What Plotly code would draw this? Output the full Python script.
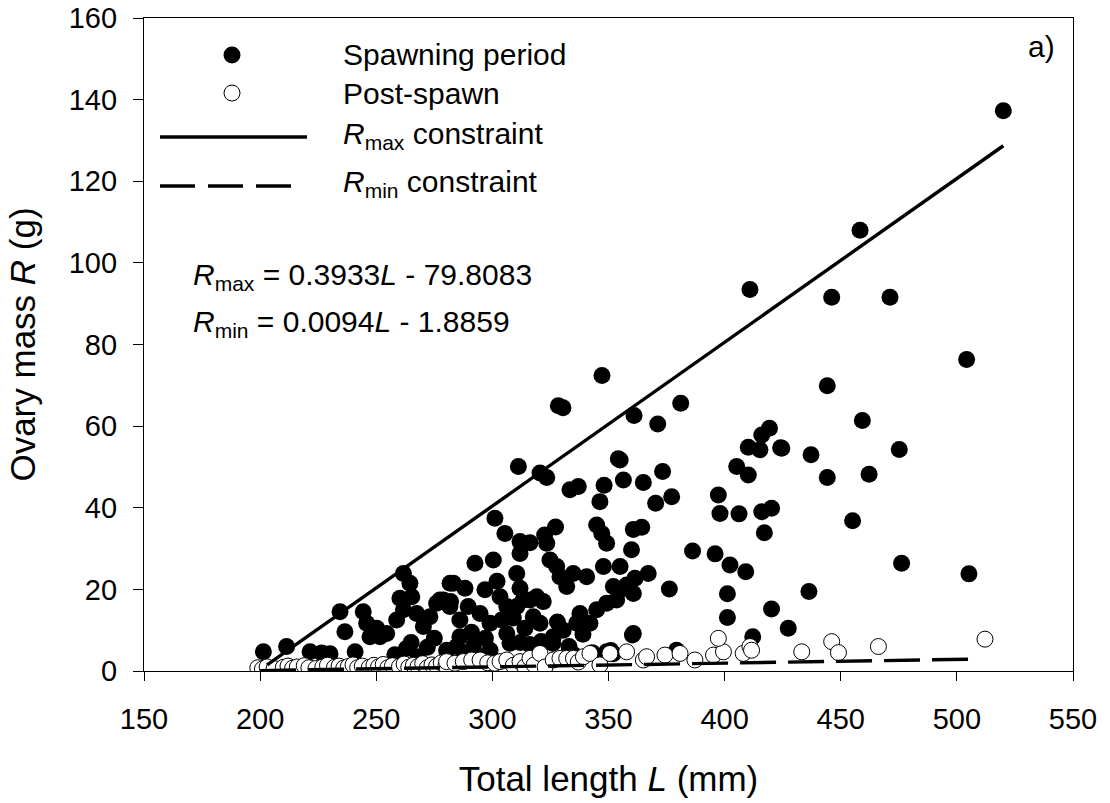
import plotly.graph_objects as go

# ---------------- data ----------------
spawn_L = [520, 458.3, 446.1, 471.2, 410.9, 504.2, 444.2, 459.3, 424.6, 437.2, 475.2, 444.2, 462.2, 455.1,
           476.2, 505.2, 436.3, 427.4, 420.2, 412.1,
           347.2, 328.4, 330.4, 361, 371.2, 381.1, 419.3, 416, 410.2, 415.2, 424.1, 405.2, 410.2, 397.3,
           398, 406.2, 416, 420.2, 417.1,
           355, 356.4, 365, 373.3, 370.3, 377.2, 360.7, 364.3, 359.9, 355, 357.8, 361.4, 367.1, 355, 360.7,
           376.2, 386.2, 395.9, 402.3, 409.1, 401.2, 401.2, 360.3, 379.3, 349.2,
           311.2, 320.5, 323.4, 354.2, 333.4, 337, 348.1, 346.3,
           301.1, 305.4, 311.9, 316.2, 322.5, 327.2, 344.9, 347.1, 349.2, 311.9, 310.5, 311.9, 292.5, 300.4,
           283.2, 288.2, 277.4, 281.7, 286, 289.6, 294.7, 299, 296.8, 303.3, 306.2, 310.5, 313.3, 316.2,
           319.1, 321.9, 317.6, 320.5,
           323.4, 324.8, 327.7, 329.1, 332, 334.8, 340.6, 347.8, 352.1, 353.5, 349.2, 344.9, 342, 336.3,
           330.5, 326.2, 337.7,
           306.2, 307.6, 299, 291.8, 284.6, 280.3, 286, 312, 316, 321, 326, 360.7, 351, 352,
           201.4, 211.4, 221.5, 226.5, 230.1, 234.4, 244.4, 245.9, 250.2, 236.5, 240.9, 261.7, 264.5, 265.3,
           260.2, 261.7, 258.8, 254.5, 251.6, 247.3, 267.4, 270.3, 273.1, 276, 278.9, 281.8, 258, 263, 268,
           272, 282, 288, 275, 265, 295, 335, 291, 297, 304, 314, 318, 328, 333, 339, 343, 302, 309]
spawn_R = [137.3, 108, 91.6, 91.6, 93.5, 76.3, 69.9, 61.4, 54.6, 53, 54.3, 47.4, 48.2, 36.8,
           26.4, 23.8, 19.5, 10.5, 15.2, 8.4,
           72.4, 65.0, 64.5, 62.6, 60.5, 65.6, 59.5, 57.8, 54.8, 54.2, 54.7, 50.1, 48, 43.1,
           38.6, 38.5, 39, 39.9, 33.9,
           51.7, 46.8, 46.2, 48.9, 41.1, 42.7, 34.7, 35.2, 29.7, 25.6, 21.1, 22.7, 23.9, 19.9, 19,
           20.1, 29.4, 28.7, 26, 24.3, 18.9, 13.1, 8.8, 5.1, 4.7,
           50.1, 48.5, 47.4, 52.0, 44.4, 45.2, 45.5, 41.5,
           37.4, 33.7, 31.7, 31.4, 33.3, 35.3, 35.8, 33.7, 31.3, 28.8, 23.9, 20.3, 26.4, 27.2,
           21.5, 20.3, 17.4, 15.8, 12.5, 15.8, 14.1, 11.7, 19.9, 18.2, 15.8, 15.8, 17.4, 17.4,
           18.2, 17, 13.3, 11.7,
           31.3, 27.2, 25.6, 23.1, 20.7, 23.9, 23.1, 25.6, 20.7, 17.4, 16.6, 15, 11.7, 11.7,
           10, 8.4, 14.1,
           9.2, 6.8, 5.1, 6, 6, 5.1, 8.4, 7, 6.5, 7.2, 6.8, 9.2, 5, 4.2,
           4.7, 6, 4.7, 4.4, 4.2, 14.5, 14.5, 11.7, 10.5, 9.6, 4.7, 23.9, 21.5, 18.2,
           17.8, 15, 12.5, 9.2, 8.4, 8.4, 14.1, 10.9, 13.3, 16.6, 17.4, 21.5, 4, 5.5, 3.5,
           5.8, 17, 4.5, 8, 7, 3.5, 4, 9.5, 8, 12.5, 10.5, 4.5, 12, 6, 9, 4.5, 22, 13]

post_L = [199, 201, 203, 206, 210, 212, 214, 216, 219, 221, 224, 227, 229, 232, 234, 236, 238, 240, 242,
          244, 247, 249, 251, 253, 255, 257, 260, 262, 264, 266, 268, 270, 272, 274, 276, 278, 280,
          280.3, 283.9, 287.5, 291.1, 294.7, 298, 301.1, 303.3, 306.2, 309, 311.9, 314, 316.2, 318,
          320.5, 322.7, 326.2, 329.1, 332, 334.9, 337, 339.2, 342, 346.3, 350.6, 357.8, 365, 366.4,
          374.3, 380.8, 387.2, 395.2, 399.5, 397.3, 408, 410.9, 411.6, 433.2, 446.1, 449, 466.2, 512.1]
post_R = [0.8, 0.5, 1.0, 0.6, 0.9, 1.2, 0.7, 1.0, 1.3, 0.8, 0.6, 1.0, 1.4, 0.9, 1.2, 0.7, 1.1, 1.5, 0.8,
          1.2, 0.9, 1.4, 1.0, 1.6, 0.8, 1.3, 1.1, 1.7, 0.9, 1.4, 1.1, 1.8, 0.8, 1.5, 1.2, 2.0, 1.3,
          2.3, 1.9, 2.3, 2.7, 2.7, 2.0, 1.9, 2.3, 2.7, 1.4, 2.3, 1.0, 3.1, 1.5,
          4.3, 1.0, 2.7, 3.1, 3.1, 3.1, 2.2, 3.5, 4.3, 1.5, 4.3, 4.7, 2.7, 3.5,
          3.9, 4.3, 2.7, 3.9, 4.7, 8.0, 4.3, 6.0, 5.1, 4.7, 7.2, 4.5, 6.0, 7.8]

rmax_L = [203, 520]
rmax_R = [1.5, 128.7]
rmin_L = [200, 507]
rmin_R = [0.1, 2.9]

x_ticks = [150, 200, 250, 300, 350, 400, 450, 500, 550]
y_ticks = [0, 20, 40, 60, 80, 100, 120, 140, 160]

legend_labels = ["Spawning period", "Post-spawn",
                 "<i>R</i><sub>max</sub> constraint", "<i>R</i><sub>min</sub> constraint"]
eq_labels = ["<i>R</i><sub>max</sub> = 0.3933<i>L</i> - 79.8083",
             "<i>R</i><sub>min</sub> = 0.0094<i>L</i> - 1.8859"]

# ---------------- layout geometry (pixels) ----------------
W, H = 1110, 803
ML, MR, MT, MB = 144, 37, 18, 132
PW, PH = W - ML - MR, H - MT - MB
FONT = "Liberation Sans, Arial, sans-serif"


def px(x):
    return (x - ML) / PW


def py(y):
    return (H - MB - y) / PH


fig = go.Figure()
fig.add_trace(go.Scatter(x=spawn_L, y=spawn_R, mode="markers", name="Spawning period",
                         marker=dict(size=17, color="black", line=dict(width=0)), showlegend=False))
fig.add_trace(go.Scatter(x=post_L, y=post_R, mode="markers", name="Post-spawn",
                         marker=dict(size=16, color="white", line=dict(width=1, color="black")),
                         showlegend=False))
fig.add_trace(go.Scatter(x=rmax_L, y=rmax_R, mode="lines", name="Rmax",
                         line=dict(color="black", width=3.4), showlegend=False))
fig.add_trace(go.Scatter(x=rmin_L, y=rmin_R, mode="lines", name="Rmin",
                         line=dict(color="black", width=3.4, dash="36px,12px"), showlegend=False))

shapes = []
# legend samples
shapes.append(dict(type="circle", xref="paper", yref="paper", xsizemode="pixel", ysizemode="pixel",
                   xanchor=px(232), yanchor=py(55), x0=-8.5, x1=8.5, y0=-8.5, y1=8.5,
                   fillcolor="black", line=dict(width=0)))
shapes.append(dict(type="circle", xref="paper", yref="paper", xsizemode="pixel", ysizemode="pixel",
                   xanchor=px(232), yanchor=py(93), x0=-8, x1=8, y0=-8, y1=8,
                   fillcolor="white", line=dict(width=1, color="black")))
shapes.append(dict(type="line", xref="paper", yref="paper", x0=px(160), x1=px(307), y0=py(137), y1=py(137),
                   line=dict(color="black", width=3.4)))
shapes.append(dict(type="line", xref="paper", yref="paper", x0=px(160), x1=px(292), y0=py(186), y1=py(186),
                   line=dict(color="black", width=3.4, dash="35px,13px")))

annotations = []
leg_y = [55, 93, 135, 183]
for lbl, yy in zip(legend_labels, leg_y):
    annotations.append(dict(text=lbl, xref="paper", yref="paper", x=px(341), y=py(yy),
                            xanchor="left", yanchor="middle", showarrow=False,
                            font=dict(size=30, color="black", family=FONT)))
eq_y = [276, 323]
for lbl, yy in zip(eq_labels, eq_y):
    annotations.append(dict(text=lbl, xref="paper", yref="paper", x=px(191), y=py(yy),
                            xanchor="left", yanchor="middle", showarrow=False,
                            font=dict(size=30, color="black", family=FONT)))
annotations.append(dict(text="a)", xref="paper", yref="paper", x=px(1057), y=py(46),
                        xanchor="right", yanchor="middle", showarrow=False,
                        font=dict(size=30, color="black", family=FONT)))

fig.update_layout(
    width=W, height=H,
    margin=dict(l=ML, r=MR, t=MT, b=MB, pad=0),
    paper_bgcolor="white", plot_bgcolor="white",
    font=dict(family=FONT, color="black", size=29),
    shapes=shapes, annotations=annotations,
    xaxis=dict(range=[150, 550], tickvals=x_ticks, ticktext=[str(v) for v in x_ticks],
               showgrid=False, zeroline=False, showline=True, linecolor="black", linewidth=1.3,
               mirror=True, ticks="outside", ticklen=9, tickwidth=1.2, tickcolor="black",
               tickfont=dict(size=29, family=FONT, color="black"), ticklabelstandoff=13,
               title=dict(text="Total length <i>L</i> (mm)", font=dict(size=35, family=FONT, color="black"),
                          standoff=32)),
    yaxis=dict(range=[0, 160], tickvals=y_ticks, ticktext=[str(v) for v in y_ticks],
               showgrid=False, zeroline=False, showline=True, linecolor="black", linewidth=1.3,
               mirror=True, ticks="outside", ticklen=10, tickwidth=1.2, tickcolor="black",
               tickfont=dict(size=29, family=FONT, color="black"), ticklabelstandoff=10,
               title=dict(text="Ovary mass <i>R</i> (g)", font=dict(size=35, family=FONT, color="black"),
                          standoff=22)),
)
fig.update_xaxes(automargin=False)
fig.update_yaxes(automargin=False)

fig.write_html("out.html")
